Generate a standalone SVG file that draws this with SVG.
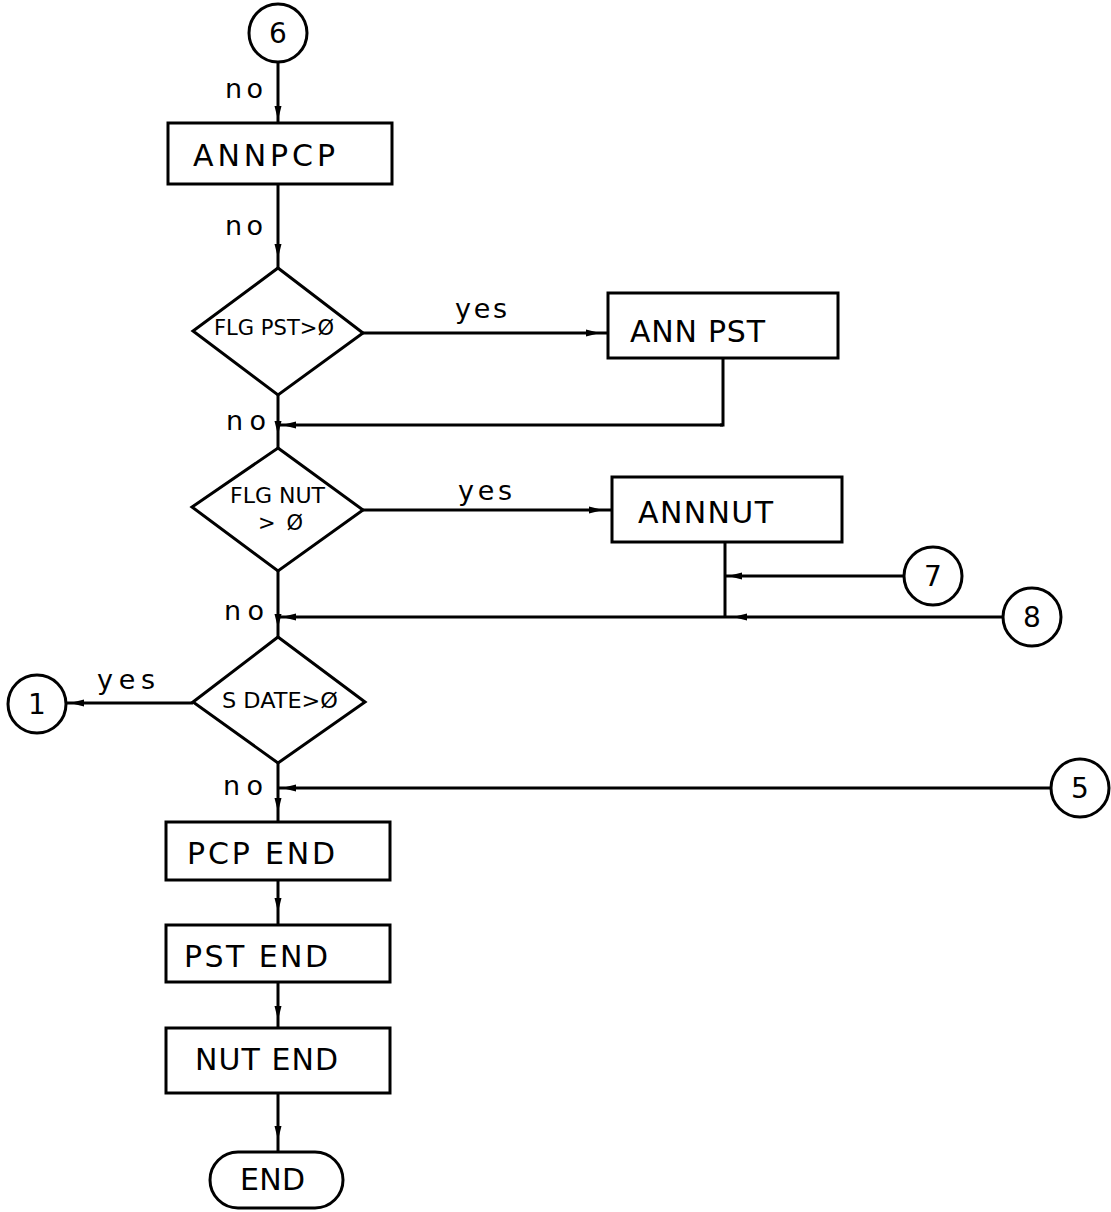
<svg xmlns="http://www.w3.org/2000/svg" width="1111" height="1212" viewBox="0 0 1111 1212">
<style>
.s{fill:#fff;stroke:#000;stroke-width:3}
.c{fill:none;stroke:#000;stroke-width:3}
.t{font-family:"DejaVu Sans","Liberation Sans",sans-serif;fill:#000}
.b{font-size:30px}
.d{font-size:21px}
.l{font-size:27px}
.n{font-size:28px;text-anchor:middle}
</style>
<defs>
<marker id="ah" markerUnits="userSpaceOnUse" markerWidth="16" markerHeight="10" refX="14" refY="4.5" orient="auto">
<path d="M0,1 L14,4.5 L0,8 z" fill="#000"/>
</marker>
</defs>
<rect width="1111" height="1212" fill="#fff"/>
<g id="connectors">
<path class="c" marker-mid="url(#ah)" d="M278 62 L278 120 L278 123"/>
<path class="c" marker-mid="url(#ah)" d="M278 184 L278 258 L278 268"/>
<path class="c" marker-mid="url(#ah)" d="M363 333 L600 333 L608 333"/>
<path class="c" d="M723 358 L723 425 L720 425"/>
<path class="c" marker-mid="url(#ah)" d="M723 425 L282 425 L278 425"/>
<path class="c" marker-mid="url(#ah)" d="M278 395 L278 435 L278 448"/>
<path class="c" marker-mid="url(#ah)" d="M363 510 L603 510 L612 510"/>
<path class="c" d="M725 542 L725 617"/>
<path class="c" marker-mid="url(#ah)" d="M904 576 L728 576 L725 576"/>
<path class="c" marker-mid="url(#ah)" d="M1003 617 L733 617 L282 617 L278 617"/>
<path class="c" marker-mid="url(#ah)" d="M278 571 L278 628 L278 637"/>
<path class="c" marker-mid="url(#ah)" d="M193 703 L70 703 L66 703"/>
<path class="c" marker-mid="url(#ah)" d="M1051 788 L282 788 L278 788"/>
<path class="c" marker-mid="url(#ah)" d="M278 763 L278 812 L278 822"/>
<path class="c" marker-mid="url(#ah)" d="M278 880 L278 912 L278 925"/>
<path class="c" marker-mid="url(#ah)" d="M278 982 L278 1020 L278 1028"/>
<path class="c" marker-mid="url(#ah)" d="M278 1093 L278 1140 L278 1152"/>
</g>
<g id="labels">
<text class="t l" x="225" y="98" textLength="38">no</text>
<text class="t l" x="225" y="235" textLength="38">no</text>
<text class="t l" x="226" y="430" textLength="40">no</text>
<text class="t l" x="224" y="620" textLength="40">no</text>
<text class="t l" x="223" y="795" textLength="40">no</text>
<text class="t l" x="455" y="318" textLength="52">yes</text>
<text class="t l" x="458" y="500" textLength="54">yes</text>
<text class="t l" x="97" y="689" textLength="58">yes</text>
</g>
<g id="n6"><circle class="s" cx="278" cy="33" r="29"/><text class="t n" x="278" y="43">6</text></g>
<g id="annpcp"><rect class="s" x="168" y="123" width="224" height="61"/><text class="t b" x="193" y="166" textLength="142">ANNPCP</text></g>
<g id="flgpst"><polygon class="s" points="278,268 363,333 278,395 193,331"/><text class="t d" x="214" y="335" textLength="120" lengthAdjust="spacingAndGlyphs">FLG PST&gt;Ø</text></g>
<g id="annpst"><rect class="s" x="608" y="293" width="230" height="65"/><text class="t b" x="630" y="342" textLength="135">ANN PST</text></g>
<g id="flgnut"><polygon class="s" points="278,448 363,510 278,571 192,507"/><text class="t d" x="230" y="503" textLength="95" lengthAdjust="spacingAndGlyphs">FLG NUT</text><text class="t d" x="258" y="530" textLength="45">&gt; Ø</text></g>
<g id="annnut"><rect class="s" x="612" y="477" width="230" height="65"/><text class="t b" x="638" y="523" textLength="135">ANNNUT</text></g>
<g id="n7"><circle class="s" cx="933" cy="576" r="29"/><text class="t n" x="933" y="586">7</text></g>
<g id="n8"><circle class="s" cx="1032" cy="617" r="29"/><text class="t n" x="1032" y="627">8</text></g>
<g id="sdate"><polygon class="s" points="278,637 365,702 278,763 193,702"/><text class="t d" x="222" y="708" textLength="116" lengthAdjust="spacingAndGlyphs">S DATE&gt;Ø</text></g>
<g id="n1"><circle class="s" cx="37" cy="704" r="29"/><text class="t n" x="37" y="714">1</text></g>
<g id="n5"><circle class="s" cx="1080" cy="788" r="29"/><text class="t n" x="1080" y="798">5</text></g>
<g id="pcpend"><rect class="s" x="166" y="822" width="224" height="58"/><text class="t b" x="187" y="864" textLength="148">PCP END</text></g>
<g id="pstend"><rect class="s" x="166" y="925" width="224" height="57"/><text class="t b" x="184" y="967" textLength="144">PST END</text></g>
<g id="nutend"><rect class="s" x="166" y="1028" width="224" height="65"/><text class="t b" x="195" y="1070" textLength="143">NUT END</text></g>
<g id="end"><rect class="s" x="210" y="1152" width="133" height="56" rx="28" ry="28"/><text class="t b" x="240" y="1190" textLength="65">END</text></g>
</svg>
